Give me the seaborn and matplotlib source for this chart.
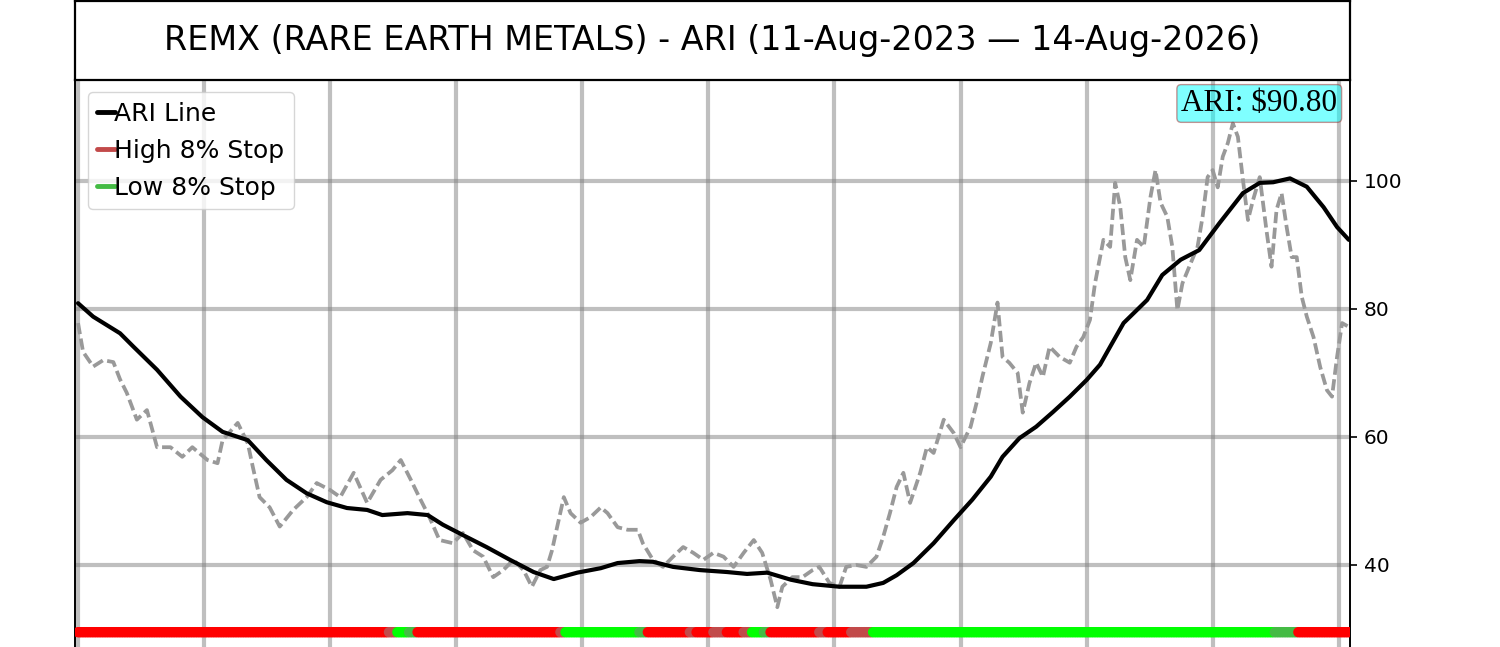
import numpy as np
import pandas as pd
import seaborn as sns
import matplotlib.pyplot as plt
from matplotlib.lines import Line2D

# trading-day index and close
price_day = [0, 3, 9, 15, 21, 25, 29, 35, 41, 47, 55, 62, 68, 77, 83, 86, 95, 101, 104, 108,
             114, 120, 128, 136, 142, 150, 156, 164, 172, 180, 187, 192, 198, 203, 209, 215, 223, 229, 235, 241,
             247, 253, 259, 265, 270, 275, 279, 282, 285, 289, 293, 299, 305, 311, 315, 321, 327, 333, 336, 342,
             348, 354, 360, 366, 372, 378, 384, 390, 396, 402, 407, 412, 416, 419, 425, 431, 437, 441, 447, 453,
             457, 463, 469, 475, 479, 483, 487, 491, 495, 501, 505, 509, 515, 521, 525, 531, 535, 538, 543, 547,
             550, 554, 559, 562, 566, 570, 574, 578, 584, 590, 594, 598, 602, 605, 610, 614, 617, 620, 623, 626,
             630, 634, 638, 641, 644, 648, 651, 654, 657, 662, 666, 669, 672, 675, 678, 681, 684, 687, 690, 693,
             696, 699, 703, 707, 710, 713, 716, 719, 722, 725, 728, 731, 735, 739, 743, 746, 749, 752, 756]
price = [77.8, 73.3, 71.0, 72.0, 71.7, 69.0, 66.9, 62.7, 64.2, 58.4, 58.4, 56.9, 58.4, 56.4, 55.9, 59.5, 62.2, 59.0, 55.3, 50.6,
         49.0, 46.0, 48.6, 50.6, 52.8, 51.7, 50.6, 54.4, 49.7, 53.3, 54.8, 56.4, 53.3, 50.6, 47.5, 43.9, 43.4, 45.0, 42.3, 41.3,
         38.1, 39.2, 40.8, 39.2, 36.6, 39.2, 39.7, 42.3, 45.9, 50.6, 48.1, 46.6, 47.5, 49.0, 48.1, 45.9, 45.5, 45.5, 43.4, 40.8,
         39.7, 41.3, 42.8, 41.9, 40.8, 41.9, 41.3, 39.7, 41.9, 43.9, 41.9, 37.7, 33.4, 36.6, 38.1, 38.1, 39.2, 39.7, 37.2, 36.6,
         39.7, 40.0, 39.7, 41.3, 44.4, 48.1, 52.2, 54.4, 49.7, 54.4, 58.4, 57.5, 62.7, 60.6, 58.4, 61.6, 65.8, 69.4, 74.7, 81.0,
         72.5, 71.6, 70.0, 63.8, 68.4, 71.6, 69.4, 74.1, 72.5, 71.6, 74.1, 75.6, 78.3, 84.0, 90.8, 89.7, 99.7, 96.0, 88.1, 84.5,
         90.8, 89.7, 97.5, 101.7, 96.6, 94.4, 89.7, 79.8, 84.0, 87.2, 89.7, 94.4, 100.6, 101.7, 99.0, 103.8, 105.9, 109.0, 106.9, 100.2,
         93.9, 97.0, 100.6, 92.3, 86.6, 95.5, 98.1, 92.8, 88.1, 88.1, 81.9, 78.8, 75.6, 70.9, 67.3, 66.3, 72.5, 77.8, 77.2]

ari_day = [0, 9, 25, 33, 47, 61, 74, 86, 101, 112, 124, 136, 148, 160, 172, 181, 196, 208, 217, 231,
           243, 257, 271, 283, 297, 311, 321, 334, 342, 354, 370, 386, 398, 410, 424, 437, 453, 469, 479, 487,
           497, 509, 521, 532, 543, 550, 560, 570, 580, 590, 600, 608, 614, 622, 636, 645, 656, 667, 679, 693,
           703, 711, 721, 731, 741, 749, 756]
ari = [80.9, 78.8, 76.2, 74.1, 70.5, 66.3, 63.1, 60.8, 59.5, 56.4, 53.3, 51.2, 49.8, 48.9, 48.6, 47.8, 48.1, 47.8, 46.3, 44.4,
       42.8, 40.8, 38.9, 37.8, 38.8, 39.5, 40.3, 40.6, 40.5, 39.7, 39.2, 38.9, 38.6, 38.8, 37.7, 37.0, 36.6, 36.6, 37.2, 38.4,
       40.3, 43.4, 47.0, 50.2, 53.8, 56.9, 59.8, 61.6, 63.9, 66.3, 68.9, 71.3, 74.1, 77.8, 81.4, 85.3, 87.7, 89.2, 93.4, 98.1,
       99.7, 99.8, 100.4, 99.1, 95.9, 92.8, 90.8]

# stop signal band: state per run of days
band_state = ['R', 'r', 'G', 'g', 'R', 'r', 'G', 'g', 'R', 'r', 'R', 'r', 'R', 'r', 'G', 'g',
              'R', 'r', 'R', 'r', 'G', 'g', 'R']
band_len = [185, 5, 7, 5, 85, 3, 44, 5, 25, 4, 10, 8, 10, 5, 7, 4,
            29, 5, 14, 13, 239, 14, 31]
band_level = 29.5

title = "REMX (RARE EARTH METALS) - ARI (11-Aug-2023 \u2014 14-Aug-2026)"
last_ari = ari[-1]

band_codes = np.repeat(band_state, band_len)
band = pd.DataFrame({"day": np.arange(len(band_codes)), "level": band_level, "state": band_codes})

hi_col = "#c24a4a"
lo_col = "#44bb44"
palette = {"R": "#ff0000", "G": "#00ff00", "r": hi_col, "g": lo_col}

sns.set_style("white")
plt.rcParams["font.family"] = ["DejaVu Sans"]
plt.rcParams["text.color"] = "black"
plt.rcParams["ytick.color"] = "black"
plt.rcParams["xtick.color"] = "black"

fig = plt.figure(figsize=(15, 6.47), dpi=100)
ax = fig.add_axes([0.05, -0.0216, 0.85, 0.898])
tax = fig.add_axes([0.05, 1 - 80 / 647, 0.85, 79 / 647])

sns.lineplot(x=price_day, y=price, color="#999999", linewidth=2.7, dashes=False,
             estimator=None, sort=False, ax=ax)
ax.lines[-1].set_dashes((3, 1.2))
sns.lineplot(x=ari_day, y=ari, color="black", linewidth=3,
             estimator=None, sort=False, ax=ax)
sns.scatterplot(data=band, x="day", y="level", hue="state", palette=palette,
                s=56, linewidth=0, legend=False, ax=ax, zorder=3)

ax.set_xlim(-1.8, 756.7)
ax.set_ylim(25, 115.78)
ax.set_xticks(range(0, 757, 75))
ax.set_yticks([40, 60, 80, 100])
ax.yaxis.tick_right()
ax.tick_params(axis="x", labelbottom=False, length=0)
ax.tick_params(axis="y", labelsize=14.5, length=5, width=1.2, pad=5, right=True, left=False)
ax.set_xlabel("")
ax.set_ylabel("")
ax.grid(True, color="gray", alpha=0.5, linewidth=3)
for s in ax.spines.values():
    s.set_color("black")
    s.set_linewidth(1.4)

handles = [Line2D([], [], color="black", linewidth=3.5),
           Line2D([], [], color=hi_col, linewidth=3.5),
           Line2D([], [], color=lo_col, linewidth=3.5)]
ax.legend(handles, ["ARI Line", "High 8% Stop", "Low 8% Stop"], loc="upper left",
          fontsize=18, handlelength=0.7, handletextpad=0.0, labelspacing=0.52,
          borderpad=0.38)

ax.annotate(f"ARI: ${last_ari:.2f}", xy=(0.99, 1.0), xycoords="axes fraction",
            xytext=(0, -9), textcoords="offset pixels", ha="right", va="top",
            fontsize=22.5, family="Liberation Serif", zorder=10,
            bbox=dict(boxstyle="round,pad=0.14", facecolor="cyan", alpha=0.5, edgecolor="brown"))

tax.set_xticks([])
tax.set_yticks([])
for s in tax.spines.values():
    s.set_color("black")
    s.set_linewidth(1.6)
tax.text(0.5, 0.5, title, ha="center", va="center", fontsize=24, transform=tax.transAxes)

fig.savefig("out.png", dpi=100)
